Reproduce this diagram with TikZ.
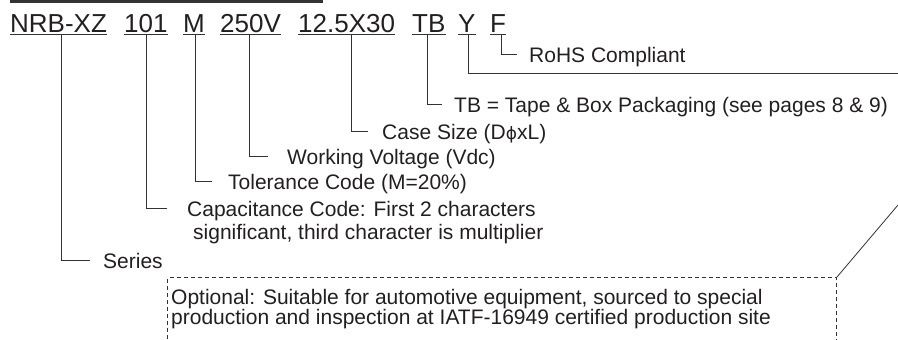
\documentclass[tikz,border=0pt]{standalone}
\usepackage{fontspec}
\setmainfont{Liberation Sans}
\newfontfamily\phifont{DejaVu Sans}
\definecolor{ink}{RGB}{35,31,32}
\definecolor{wire}{RGB}{50,50,50}
\tikzset{
  code/.style={anchor=base west, inner sep=0pt, text=ink, font=\fontsize{26}{30}\selectfont},
  lbl/.style={anchor=base west, inner sep=0pt, text=ink, font=\fontsize{21}{24}\selectfont},
  wireline/.style={draw=wire, line width=1pt},
  optbox/.style={draw=wire, line width=1pt, dash pattern=on 4pt off 3pt, anchor=north west,
    minimum width=669pt, minimum height=75pt, inner sep=0pt}
}
\newcommand{\ul}[1]{\draw[wireline] ([yshift=-2pt]#1.base west) -- ([yshift=-2pt]#1.base east);}
\begin{document}
\begin{tikzpicture}[x=1pt,y=-1pt]
\useasboundingbox (0,0) rectangle (898,340);
\clip (0,0) rectangle (898,340);
\fill[wire] (10,0) rectangle (323,3);
% codes
\node[code] (nrb) at (10,32) {NRB-XZ};
\node[code] (cap) at (124,32) {101};
\node[code] (tol) at (183,32) {M};
\node[code] (volt) at (220,32) {250V};
\node[code] (size) at (298,32) {12.5X30};
\node[code] (tb) at (412,32) {TB};
\node[code] (y) at (458,32) {Y};
\node[code] (f) at (490,32) {F};
\ul{nrb}\ul{cap}\ul{tol}\ul{volt}\ul{size}\ul{tb}\ul{y}\ul{f}
% labels
\node[lbl] (rohs) at (529,62) {RoHS Compliant};
\node[lbl] (tbl) at (454,112) {TB = Tape \& Box Packaging (see pages 8 \& 9)};
\node[lbl] (sizel) at (382,139) {Case Size (D{\phifont\fontsize{17}{20}\selectfont ϕ}xL)};
\node[lbl] (voltl) at (287,164) {Working Voltage (Vdc)};
\node[lbl] (toll) at (228,189) {Tolerance Code (M=20\%)};
\node[lbl] (capl) at (187,216) {Capacitance Code: First 2 characters};
\node[lbl] (capl2) at (193,239) {significant, third character is multiplier};
\node[lbl] (series) at (103,268) {Series};
\node[optbox] (box) at (167,277) {};
\node[lbl] (opt1) at (171,304.5) {Optional: Suitable for automotive equipment, sourced to special};
\node[lbl] (opt2) at (171,324.5) {production and inspection at IATF-16949 certified production site};
\coordinate (yend) at (898,73);
\coordinate (boxend) at (898,205);
% connectors
\draw[wireline] ([xshift=3pt,yshift=-2pt]f.base) |- ([xshift=-12pt,yshift=8pt]rohs.base west);
\draw[wireline] ([xshift=1.5pt,yshift=-2pt]y.base) |- (yend);
\draw[wireline] ([xshift=-1.5pt,yshift=-2pt]tb.base) |- ([xshift=-12pt,yshift=8pt]tbl.base west);
\draw[wireline] ([xshift=4.5pt,yshift=-2pt]size.base) |- ([xshift=-14pt,yshift=8pt]sizel.base west);
\draw[wireline] ([xshift=-1.5pt,yshift=-2pt]volt.base) |- ([xshift=-19pt,yshift=8pt]voltl.base west);
\draw[wireline] ([xshift=1.5pt,yshift=-2pt]tol.base) |- ([xshift=-16pt,yshift=8pt]toll.base west);
\draw[wireline] ([xshift=0.5pt,yshift=-2pt]cap.base) |- ([xshift=-20pt,yshift=8pt]capl.base west);
\draw[wireline] ([xshift=3pt,yshift=-2pt]nrb.base) |- ([xshift=-13pt,yshift=8pt]series.base west);
\draw[wireline, line width=0.8pt] (box.north east) -- (boxend);
\end{tikzpicture}
\end{document}
